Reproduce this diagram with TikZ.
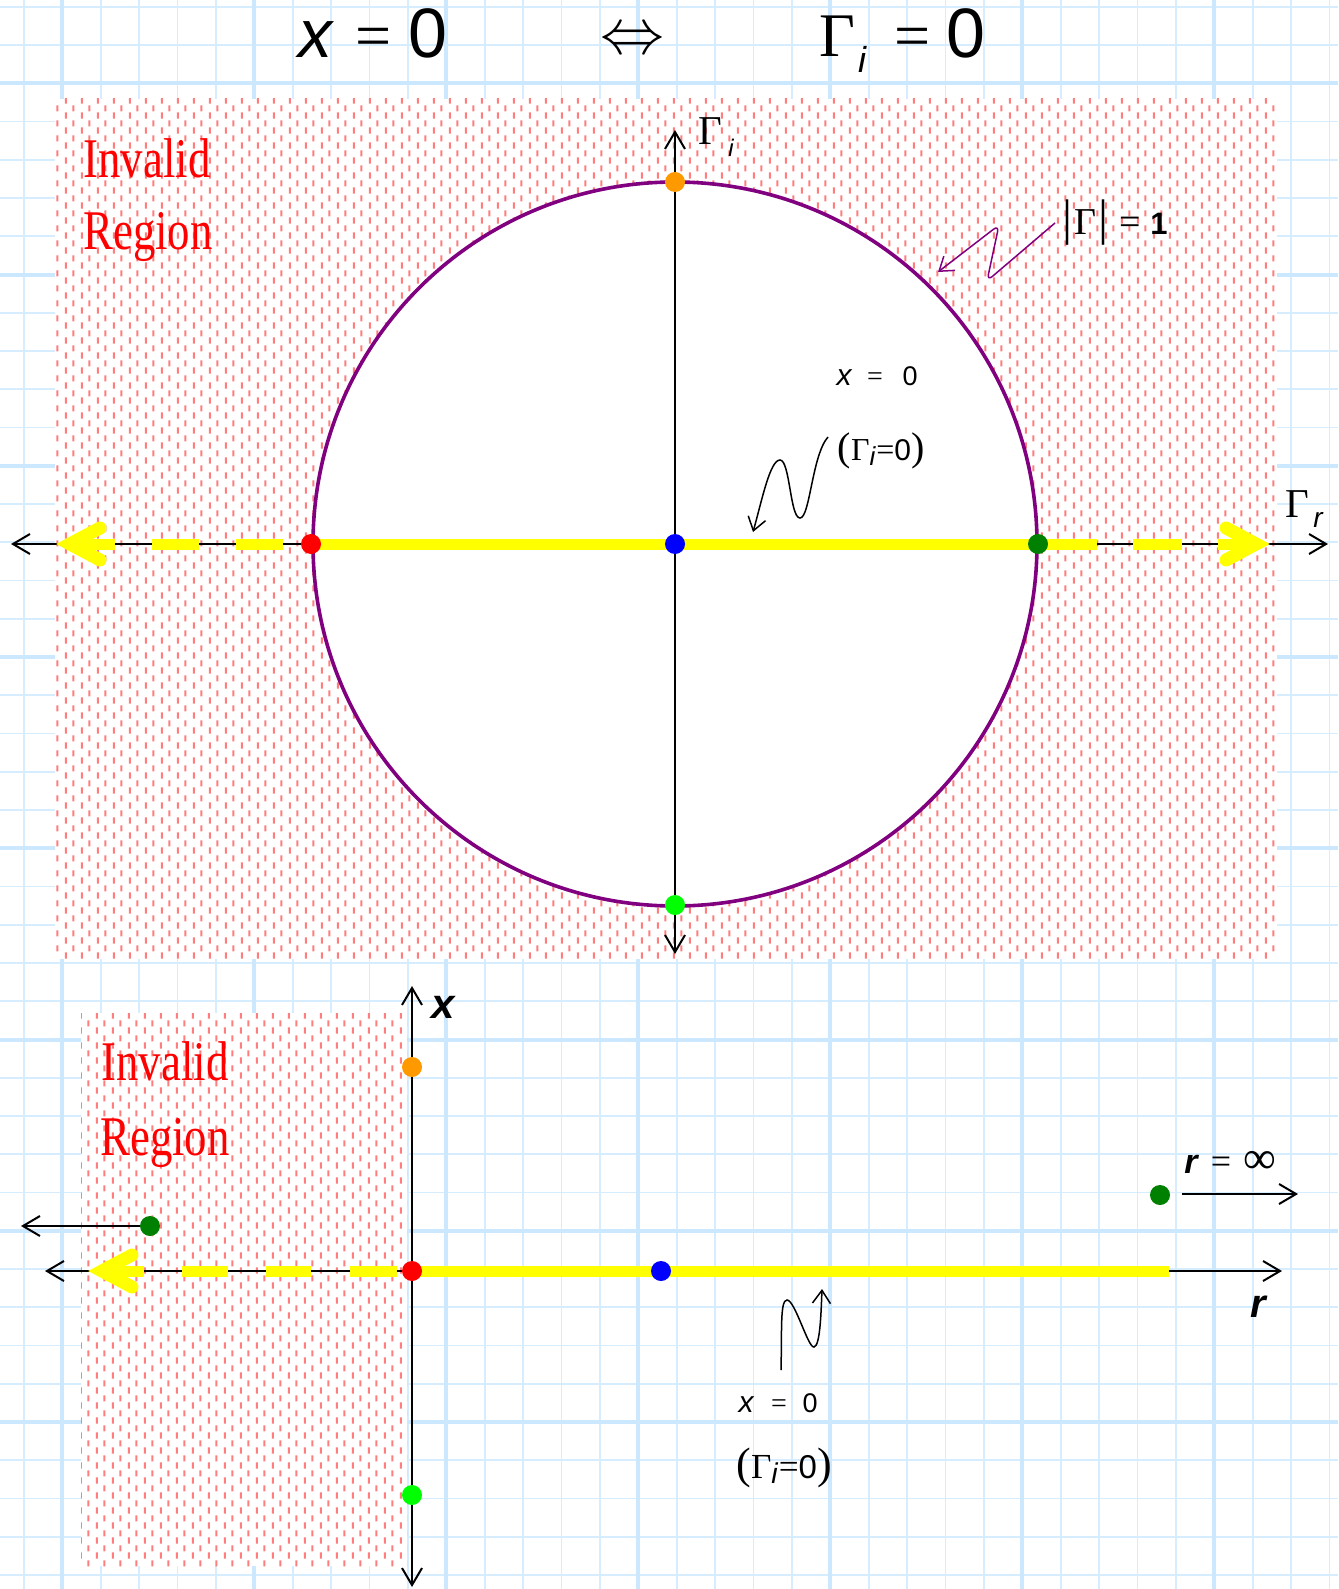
\documentclass[tikz,border=0pt]{standalone}
\usepackage{fontspec}
\usepackage{graphicx}
\setmainfont{Liberation Sans}
\newfontfamily\srf{Liberation Serif}
\newfontfamily\djv{DejaVu Sans}
\usetikzlibrary{patterns,arrows.meta}
\definecolor{gthin}{RGB}{214,236,255}
\definecolor{gthick}{RGB}{204,232,255}
\definecolor{pinkc}{RGB}{255,125,125}
\definecolor{purp}{RGB}{128,0,128}
\definecolor{ylw}{RGB}{255,255,0}
\definecolor{orng}{RGB}{255,153,0}
\definecolor{limec}{RGB}{0,255,0}
\definecolor{dgreen}{RGB}{0,128,0}
\definecolor{invred}{RGB}{255,0,0}
\newcommand{\fs}[1]{\fontsize{#1}{#1}\selectfont}
\newcommand{\gizero}{{\srf\fs{40}(}{\srf\fs{32}Γ}{\fs{26}\itshape\raisebox{-5pt}{i}}\kern1pt{\srf\fs{32}=}{\fs{30}0}{\srf\fs{40})}}
\pgfdeclarepatternformonly{pinkdash}{\pgfqpoint{0pt}{0pt}}{\pgfqpoint{15.5pt}{15pt}}{\pgfqpoint{15.5pt}{15pt}}{%
  \pgfsetlinewidth{2pt}%
  \pgfpathmoveto{\pgfqpoint{3.9pt}{0.5pt}}\pgfpathlineto{\pgfqpoint{3.9pt}{7pt}}%
  \pgfpathmoveto{\pgfqpoint{11.65pt}{8pt}}\pgfpathlineto{\pgfqpoint{11.65pt}{14.5pt}}%
  \pgfusepath{stroke}}
\tikzset{
  gridthin/.style={gthin, line width=1.6pt},
  gridthick/.style={gthick, line width=4pt},
  axisline/.style={black, line width=2pt, >={Straight Barb[length=17pt,width=20pt]}},
  squig/.style={line width=1.5pt, -{Straight Barb[length=13pt,width=18pt]}},
  dot/.style={circle, inner sep=0pt, minimum size=20pt},
  yel/.style={ylw, line width=11pt},
  chev/.style={ylw, line width=13pt, line cap=round, line join=miter},
  invalid/.style={inner sep=0pt, anchor=base, text=invred},
  lbl/.style={inner sep=0pt, anchor=base},
  hatch/.style={pattern=pinkdash, pattern color=pinkc}
}
\begin{document}
\begin{tikzpicture}[x=1pt,y=-1pt]
\useasboundingbox (0,0) rectangle (1338,1589);
\fill[white] (0,0) rectangle (1338,1589);
% grid
\foreach \i in {0,...,34} {\draw[gridthin] ({24+38.4*\i},0) -- ({24+38.4*\i},1589);}
\foreach \j in {0,...,41} {\draw[gridthin] (0,{6.75+38.25*\j}) -- (1338,{6.75+38.25*\j});}
\foreach \i in {0,...,6} {\draw[gridthick] ({62+192*\i},0) -- ({62+192*\i},1589);}
\foreach \j in {0,...,7} {\draw[gridthick] (0,{83.3+191.25*\j}) -- (1338,{83.3+191.25*\j});}
% invalid regions
\fill[white] (55,99) rectangle (1277,959);
\fill[hatch] (55,99) rectangle (1277,959);
\fill[white] (81,1013) rectangle (407,1566);
\fill[hatch] (81,1013) rectangle (407,1566);

% title
\node[lbl, font=\fs{68}\itshape] (tx) at (315,58) {x};
\node[lbl, font=\srf\fs{64}] (teqa) at (374,58) {=};
\node[lbl, font=\fs{70}] (tza) at (428,58) {0};
\node[inner sep=0pt] (tiff) at (632,42) {\scalebox{6.4}{$\Leftrightarrow$}};
\node[lbl, font=\srf\fs{62}] (tG) at (837,57) {Γ};
\node[lbl, font=\fs{36}\itshape] (ti) at (862,73) {i};
\node[lbl, font=\srf\fs{64}] (teqb) at (913,58) {=};
\node[lbl, font=\fs{70}] (tzb) at (966,58) {0};

% top: circle
\node[circle, draw=purp, line width=3.6pt, fill=white, minimum size=724pt, inner sep=0pt] (C) at (675,544) {};

% top axes
\coordinate (axL) at (11,544);
\coordinate (axR) at (1328,544);
\coordinate (axT) at (675,130);
\coordinate (axB) at (675,954);
\draw[axisline,<->] (axL) -- (axR);
\draw[axisline,<->] (axT) -- (axB);

% top yellow
\draw[yel] (311,544) -- (1038,544);
\draw[yel] (283,544) -- (236,544);
\draw[yel] (199,544) -- (152,544);
\draw[yel] (115,544) -- (69,544);
\draw[chev] (100,528) -- (70,544) -- (100,560);
\draw[yel] (1038,544) -- (1097,544);
\draw[yel] (1133,544) -- (1182,544);
\draw[yel] (1218,544) -- (1256,544);
\draw[chev] (1226,528) -- (1256,544) -- (1226,560);

% top dots
\node[dot, fill=red] (dR) at (311,544) {};
\node[dot, fill=blue] (dB) at (675,544) {};
\node[dot, fill=dgreen] (dG) at (1038,544) {};
\node[dot, fill=orng] (dO) at (675,182) {};
\node[dot, fill=limec] (dL) at (675,905) {};

% top labels
\node[lbl, font=\srf\fs{41}] (GiG) at (710,145) {Γ};
\node[lbl, font=\fs{24}\itshape] (Gii) at (731,157) {i};
\node[lbl, font=\srf\fs{41}] (GrG) at (1297,517) {Γ};
\node[lbl, font=\fs{28}\itshape] (Grr) at (1318,527) {r};

\node[lbl, font=\srf\fs{50}] (barA) at (1067,235) {|};
\node[lbl, font=\srf\fs{38}] (mG) at (1085,235) {Γ};
\node[lbl, font=\srf\fs{50}] (barB) at (1103,235) {|};
\node[lbl, font=\srf\fs{38}] (meq) at (1130,235) {=};
\node[lbl, font=\bfseries\fs{31}] (mone) at (1159,235) {1};

\node[invalid, font=\srf\fs{56}] (inv1) at (147,178) {\scalebox{0.8}[1]{Invalid}};
\node[invalid, font=\srf\fs{56}] (reg1) at (148,250) {\scalebox{0.8}[1]{Region}};

\node[lbl, font=\fs{30}\itshape] (cx) at (844,385) {x};
\node[lbl, font=\srf\fs{28}] (ceq) at (875,385) {=};
\node[lbl, font=\fs{27}] (cz) at (910,385) {0};
\node[lbl] (cgi) at (881,460) {\gizero};

% squiggles (top)
\coordinate (sqAs) at (828,437);
\coordinate (sqAe) at (753,532);
\draw[squig] (sqAs) .. controls (812,455) and (810,518) .. (800,518)
  .. controls (790,518) and (790,460) .. (780,460)
  .. controls (770,460) and (762,500) .. (sqAe);
\coordinate (sqBs) at (1055,223);
\coordinate (sqBb) at (987,281);
\coordinate (sqBt) at (999,225);
\coordinate (sqBe) at (938,272);
\draw[squig, purp, rounded corners=7pt] (sqBs) -- (sqBb) -- (sqBt) -- (sqBe);

% bottom axes
\coordinate (bxL) at (45,1271);
\coordinate (bxR) at (1282,1271);
\coordinate (bxT) at (412,986);
\coordinate (bxB) at (412,1587);
\draw[axisline,<->] (bxL) -- (bxR);
\draw[axisline,<->] (bxT) -- (bxB);

% bottom yellow
\draw[yel] (412,1271) -- (1169,1271);
\draw[yel] (397,1271) -- (350,1271);
\draw[yel] (311,1271) -- (266,1271);
\draw[yel] (228,1271) -- (182,1271);
\draw[yel] (144,1271) -- (101,1271);
\draw[chev] (132,1255) -- (102,1271) -- (132,1287);

% bottom dots
\node[dot, fill=red] (bR) at (412,1271) {};
\node[dot, fill=blue] (bB) at (661,1271) {};
\node[dot, fill=orng] (bO) at (412,1067) {};
\node[dot, fill=limec] (bL) at (412,1495) {};
\node[dot, fill=dgreen] (bG1) at (150,1226) {};
\node[dot, fill=dgreen] (bG2) at (1160,1195) {};
\coordinate (gLtip) at (21,1226);
\draw[axisline,->] (bG1) -- (gLtip);
\coordinate (gRs) at (1182,1194);
\coordinate (gRtip) at (1298,1194);
\draw[axisline,->] (gRs) -- (gRtip);

% bottom labels
\node[lbl, font=\bfseries\itshape\fs{42}] (bxlab) at (443,1018) {x};
\node[lbl, font=\bfseries\itshape\fs{40}] (brlab) at (1258,1317) {r};
\node[lbl, font=\bfseries\itshape\fs{34}] (rinf1) at (1191,1173) {r};
\node[lbl, font=\srf\fs{36}] (rinf2) at (1221,1173) {=};
\node[lbl, font=\srf\fs{46}] (rinf3) at (1260,1173) {∞};

\node[invalid, font=\srf\fs{56}] (inv2) at (165,1080) {\scalebox{0.8}[1]{Invalid}};
\node[invalid, font=\srf\fs{56}] (reg2) at (165,1155) {\scalebox{0.8}[1]{Region}};

\node[lbl, font=\fs{30}\itshape] (bcx) at (746,1412) {x};
\node[lbl, font=\srf\fs{28}] (bceq) at (779,1412) {=};
\node[lbl, font=\fs{27}] (bcz) at (810,1412) {0};
\node[lbl] (bcgi) at (784,1478) {\scalebox{1.1}{\gizero}};

\coordinate (sqCs) at (781,1370);
\coordinate (sqCe) at (822,1289);
\draw[squig] (sqCs) .. controls (782,1330) and (780,1300) .. (787,1300)
  .. controls (795,1300) and (808,1348) .. (814,1347)
  .. controls (820,1346) and (821,1315) .. (sqCe);
\end{tikzpicture}
\end{document}
